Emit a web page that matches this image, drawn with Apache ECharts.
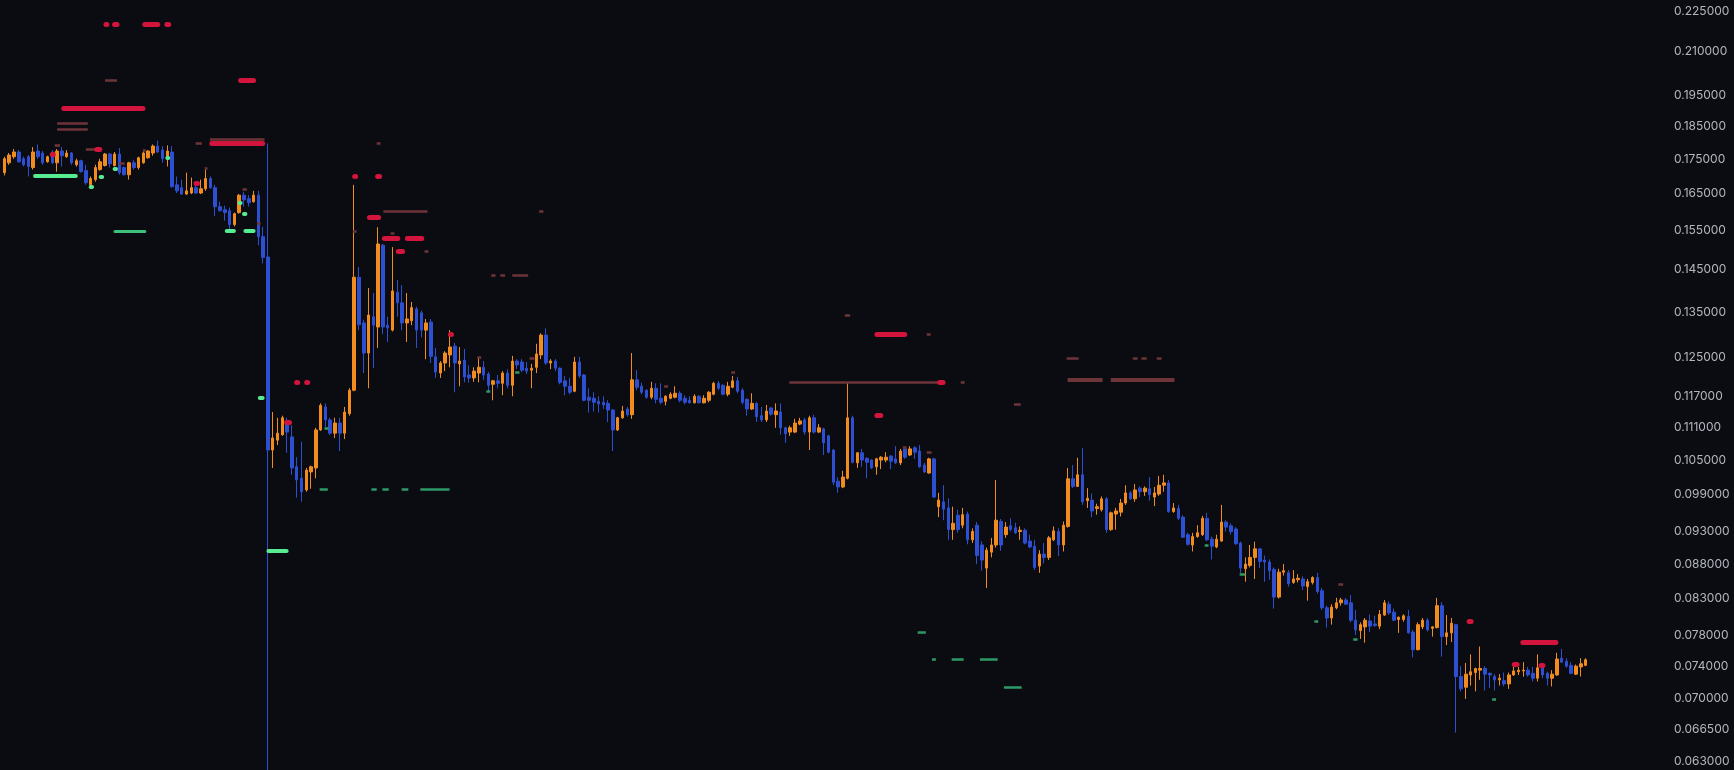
<!DOCTYPE html>
<html><head><meta charset="utf-8">
<script src="https://cdn.jsdelivr.net/npm/echarts@6/dist/echarts.min.js"></script>
<style>html,body{margin:0;padding:0;background:#0b0c11;}#c{width:1734px;height:770px;}</style>
</head><body><div id="c"></div>
<script>
// OHLC per candle: [open, high, low, close]
const ohlc = [
[0.1710,0.1757,0.1702,0.1751],[0.1739,0.1768,0.1733,0.1762],[0.1757,0.1780,0.1751,0.1771],[0.1771,0.1777,0.1739,0.1742],
[0.1751,0.1757,0.1728,0.1733],[0.1757,0.1762,0.1699,0.1728],[0.1725,0.1786,0.1719,0.1771],[0.1774,0.1794,0.1750,0.1757],
[0.1768,0.1774,0.1733,0.1739],[0.1742,0.1760,0.1739,0.1757],[0.1771,0.1777,0.1736,0.1739],[0.1739,0.1780,0.1713,0.1774],
[0.1774,0.1786,0.1728,0.1760],[0.1757,0.1777,0.1754,0.1768],[0.1768,0.1771,0.1733,0.1739],[0.1733,0.1751,0.1728,0.1745],
[0.1745,0.1748,0.1710,0.1713],[0.1716,0.1733,0.1675,0.1681],[0.1675,0.1699,0.1664,0.1693],[0.1690,0.1733,0.1684,0.1725],
[0.1719,0.1751,0.1716,0.1742],[0.1731,0.1768,0.1728,0.1765],[0.1765,0.1768,0.1725,0.1736],[0.1731,0.1771,0.1728,0.1765],
[0.1765,0.1783,0.1704,0.1710],[0.1725,0.1728,0.1702,0.1704],[0.1704,0.1742,0.1690,0.1739],[0.1739,0.1748,0.1719,0.1725],
[0.1725,0.1757,0.1719,0.1754],[0.1739,0.1777,0.1736,0.1768],[0.1754,0.1777,0.1751,0.1774],[0.1768,0.1794,0.1760,0.1789],
[0.1789,0.1806,0.1768,0.1771],[0.1777,0.1789,0.1739,0.1751],[0.1751,0.1791,0.1728,0.1774],[0.1771,0.1789,0.1667,0.1670],
[0.1675,0.1699,0.1652,0.1658],[0.1667,0.1690,0.1647,0.1649],[0.1649,0.1710,0.1647,0.1658],[0.1652,0.1696,0.1649,0.1667],
[0.1667,0.1684,0.1649,0.1652],[0.1652,0.1690,0.1649,0.1664],[0.1664,0.1719,0.1658,0.1693],[0.1693,0.1699,0.1664,0.1667],
[0.1667,0.1675,0.1589,0.1614],[0.1614,0.1628,0.1601,0.1603],[0.1606,0.1617,0.1576,0.1598],[0.1603,0.1612,0.1553,0.1566],
[0.1566,0.1598,0.1561,0.1595],[0.1598,0.1649,0.1595,0.1646],[0.1646,0.1655,0.1614,0.1633],[0.1636,0.1646,0.1614,0.1625],
[0.1628,0.1658,0.1625,0.1646],[0.1646,0.1658,0.1512,0.1534],[0.1534,0.1560,0.1466,0.1481],[0.1482,0.1797,0.0600,0.1068],
[0.1068,0.1139,0.1036,0.1090],[0.1086,0.1128,0.1077,0.1099],[0.1096,0.1132,0.1094,0.1128],[0.1120,0.1128,0.1063,0.1101],
[0.1092,0.1114,0.1024,0.1036],[0.1038,0.1055,0.0985,0.1015],[0.1018,0.1083,0.0978,0.0995],[0.0998,0.1036,0.0995,0.1032],
[0.1029,0.1040,0.1000,0.1038],[0.1036,0.1109,0.1018,0.1105],[0.1105,0.1156,0.1103,0.1152],[0.1149,0.1156,0.1111,0.1124],
[0.1124,0.1128,0.1096,0.1099],[0.1099,0.1128,0.1090,0.1118],[0.1118,0.1128,0.1066,0.1099],[0.1099,0.1149,0.1088,0.1139],
[0.1136,0.1186,0.1132,0.1182],[0.1182,0.1675,0.1180,0.1432],[0.1432,0.1457,0.1309,0.1321],[0.1325,0.1332,0.1217,0.1259],
[0.1259,0.1406,0.1186,0.1343],[0.1339,0.1394,0.1227,0.1320],[0.1316,0.1559,0.1270,0.1515],[0.1512,0.1515,0.1300,0.1316],
[0.1320,0.1339,0.1283,0.1314],[0.1309,0.1507,0.1306,0.1399],[0.1396,0.1425,0.1339,0.1371],[0.1371,0.1413,0.1309,0.1325],
[0.1325,0.1394,0.1283,0.1334],[0.1330,0.1373,0.1320,0.1360],[0.1357,0.1362,0.1270,0.1309],[0.1348,0.1353,0.1293,0.1309],
[0.1309,0.1334,0.1246,0.1325],[0.1327,0.1334,0.1238,0.1252],[0.1251,0.1270,0.1207,0.1219],[0.1217,0.1242,0.1207,0.1238],
[0.1238,0.1263,0.1221,0.1259],[0.1255,0.1309,0.1229,0.1272],[0.1274,0.1281,0.1178,0.1238],[0.1236,0.1272,0.1190,0.1242],
[0.1244,0.1268,0.1198,0.1209],[0.1213,0.1233,0.1197,0.1207],[0.1207,0.1229,0.1199,0.1221],[0.1217,0.1251,0.1198,0.1229],
[0.1229,0.1242,0.1203,0.1213],[0.1215,0.1219,0.1180,0.1192],[0.1194,0.1203,0.1162,0.1201],[0.1201,0.1213,0.1186,0.1196],
[0.1196,0.1221,0.1172,0.1217],[0.1217,0.1225,0.1186,0.1192],[0.1192,0.1253,0.1170,0.1242],[0.1242,0.1246,0.1225,0.1234],
[0.1240,0.1246,0.1219,0.1223],[0.1227,0.1240,0.1215,0.1221],[0.1223,0.1236,0.1186,0.1227],[0.1229,0.1279,0.1217,0.1257],
[0.1255,0.1302,0.1246,0.1298],[0.1298,0.1313,0.1234,0.1238],[0.1238,0.1246,0.1225,0.1242],[0.1242,0.1246,0.1221,0.1227],
[0.1227,0.1229,0.1194,0.1198],[0.1201,0.1211,0.1172,0.1190],[0.1190,0.1207,0.1174,0.1178],[0.1180,0.1251,0.1178,0.1240],
[0.1240,0.1251,0.1207,0.1211],[0.1213,0.1215,0.1160,0.1162],[0.1168,0.1186,0.1138,0.1162],[0.1166,0.1178,0.1140,0.1158],
[0.1160,0.1170,0.1138,0.1155],[0.1158,0.1170,0.1145,0.1153],[0.1156,0.1162,0.1120,0.1143],[0.1143,0.1145,0.1066,0.1105],
[0.1105,0.1130,0.1103,0.1128],[0.1128,0.1151,0.1126,0.1141],[0.1145,0.1149,0.1130,0.1134],[0.1134,0.1259,0.1126,0.1203],
[0.1203,0.1223,0.1182,0.1188],[0.1190,0.1197,0.1174,0.1178],[0.1182,0.1184,0.1165,0.1168],[0.1168,0.1199,0.1164,0.1186],
[0.1186,0.1196,0.1156,0.1164],[0.1166,0.1196,0.1154,0.1158],[0.1160,0.1172,0.1152,0.1170],[0.1166,0.1178,0.1164,0.1174],
[0.1168,0.1190,0.1166,0.1176],[0.1176,0.1180,0.1158,0.1162],[0.1166,0.1172,0.1154,0.1158],[0.1162,0.1170,0.1156,0.1157],
[0.1157,0.1174,0.1156,0.1170],[0.1170,0.1172,0.1156,0.1157],[0.1157,0.1172,0.1156,0.1166],[0.1162,0.1180,0.1158,0.1178],
[0.1174,0.1199,0.1172,0.1196],[0.1196,0.1201,0.1182,0.1186],[0.1192,0.1194,0.1172,0.1174],[0.1174,0.1199,0.1170,0.1190],
[0.1188,0.1211,0.1186,0.1201],[0.1201,0.1209,0.1176,0.1180],[0.1182,0.1186,0.1154,0.1158],[0.1164,0.1166,0.1132,0.1145],
[0.1145,0.1176,0.1143,0.1156],[0.1156,0.1158,0.1120,0.1130],[0.1132,0.1149,0.1120,0.1124],[0.1124,0.1153,0.1120,0.1141],
[0.1147,0.1149,0.1132,0.1135],[0.1134,0.1156,0.1109,0.1141],[0.1139,0.1156,0.1096,0.1109],[0.1109,0.1111,0.1081,0.1098],
[0.1101,0.1113,0.1094,0.1109],[0.1101,0.1126,0.1099,0.1118],[0.1116,0.1128,0.1114,0.1122],[0.1124,0.1128,0.1096,0.1101],
[0.1101,0.1132,0.1068,0.1128],[0.1128,0.1134,0.1098,0.1101],[0.1101,0.1116,0.1099,0.1109],[0.1107,0.1109,0.1059,0.1081],
[0.1094,0.1096,0.1062,0.1064],[0.1068,0.1070,0.1006,0.1011],[0.1013,0.1020,0.0993,0.1003],[0.1003,0.1031,0.1001,0.1020],
[0.1018,0.1198,0.1016,0.1128],[0.1128,0.1132,0.1044,0.1046],[0.1045,0.1064,0.1036,0.1063],[0.1063,0.1070,0.1038,0.1050],
[0.1053,0.1055,0.1018,0.1046],[0.1050,0.1051,0.1034,0.1036],[0.1038,0.1054,0.1024,0.1052],[0.1050,0.1057,0.1034,0.1055],
[0.1050,0.1064,0.1046,0.1055],[0.1057,0.1059,0.1034,0.1048],[0.1052,0.1075,0.1043,0.1045],[0.1045,0.1070,0.1041,0.1066],
[0.1070,0.1073,0.1052,0.1055],[0.1059,0.1075,0.1057,0.1070],[0.1072,0.1075,0.1052,0.1064],[0.1066,0.1077,0.1036,0.1038],
[0.1041,0.1045,0.1027,0.1029],[0.1027,0.1054,0.1026,0.1052],[0.1052,0.1054,0.0985,0.0986],[0.0970,0.0993,0.0953,0.0981],
[0.0978,0.1006,0.0948,0.0966],[0.0968,0.0984,0.0917,0.0933],[0.0933,0.0970,0.0917,0.0943],[0.0956,0.0965,0.0928,0.0933],
[0.0940,0.0968,0.0935,0.0957],[0.0958,0.0962,0.0910,0.0917],[0.0917,0.0935,0.0912,0.0930],[0.0940,0.0945,0.0880,0.0893],
[0.0909,0.0915,0.0870,0.0886],[0.0874,0.0905,0.0845,0.0901],[0.0898,0.0920,0.0890,0.0909],[0.0909,0.1015,0.0905,0.0948],
[0.0946,0.0950,0.0900,0.0909],[0.0925,0.0945,0.0920,0.0937],[0.0939,0.0951,0.0930,0.0933],[0.0936,0.0944,0.0926,0.0928],
[0.0930,0.0938,0.0917,0.0932],[0.0932,0.0935,0.0910,0.0912],[0.0915,0.0925,0.0904,0.0906],[0.0907,0.0917,0.0871,0.0875],
[0.0877,0.0901,0.0867,0.0895],[0.0895,0.0912,0.0881,0.0890],[0.0890,0.0923,0.0886,0.0920],[0.0917,0.0938,0.0915,0.0931],
[0.0930,0.0935,0.0892,0.0909],[0.0909,0.0946,0.0899,0.0940],[0.0938,0.1036,0.0936,0.1017],[0.1017,0.1041,0.1001,0.1004],
[0.1004,0.1054,0.1003,0.1024],[0.1024,0.1072,0.0973,0.0978],[0.0980,0.1001,0.0968,0.0984],[0.0981,0.0992,0.0953,0.0963],
[0.0967,0.0975,0.0957,0.0970],[0.0965,0.0987,0.0962,0.0983],[0.0983,0.0986,0.0928,0.0933],[0.0933,0.0962,0.0931,0.0960],
[0.0958,0.0968,0.0933,0.0963],[0.0961,0.0983,0.0954,0.0976],[0.0976,0.1006,0.0973,0.0993],[0.0993,0.0996,0.0981,0.0983],
[0.0983,0.1008,0.0978,0.0998],[0.1001,0.1004,0.0986,0.0995],[0.0995,0.1004,0.0988,0.1001],[0.1000,0.1020,0.0980,0.0990],
[0.0986,0.1003,0.0971,0.0993],[0.0991,0.1022,0.0988,0.1006],[0.1006,0.1024,0.0995,0.1010],[0.1010,0.1015,0.0960,0.0962],
[0.0962,0.0976,0.0960,0.0968],[0.0967,0.0973,0.0948,0.0951],[0.0953,0.0956,0.0920,0.0921],[0.0925,0.0928,0.0908,0.0910],
[0.0909,0.0928,0.0899,0.0922],[0.0922,0.0940,0.0920,0.0928],[0.0925,0.0955,0.0923,0.0951],[0.0951,0.0960,0.0915,0.0917],
[0.0918,0.0922,0.0887,0.0907],[0.0906,0.0925,0.0904,0.0918],[0.0915,0.0973,0.0914,0.0945],[0.0945,0.0948,0.0930,0.0937],
[0.0939,0.0943,0.0925,0.0930],[0.0934,0.0937,0.0909,0.0911],[0.0912,0.0914,0.0867,0.0874],[0.0873,0.0890,0.0854,0.0880],
[0.0878,0.0909,0.0875,0.0890],[0.0890,0.0914,0.0858,0.0903],[0.0903,0.0904,0.0874,0.0884],[0.0886,0.0893,0.0854,0.0883],
[0.0883,0.0887,0.0857,0.0870],[0.0872,0.0875,0.0816,0.0832],[0.0832,0.0873,0.0830,0.0868],[0.0868,0.0880,0.0863,0.0870],
[0.0867,0.0871,0.0847,0.0851],[0.0853,0.0871,0.0851,0.0858],[0.0857,0.0865,0.0853,0.0859],[0.0858,0.0862,0.0842,0.0848],
[0.0847,0.0858,0.0827,0.0854],[0.0853,0.0862,0.0850,0.0860],[0.0860,0.0867,0.0837,0.0840],[0.0841,0.0845,0.0814,0.0817],
[0.0817,0.0820,0.0790,0.0803],[0.0803,0.0822,0.0794,0.0818],[0.0817,0.0831,0.0815,0.0824],[0.0824,0.0831,0.0820,0.0828],
[0.0828,0.0831,0.0821,0.0822],[0.0824,0.0835,0.0797,0.0800],[0.0800,0.0814,0.0780,0.0787],[0.0786,0.0797,0.0775,0.0794],
[0.0791,0.0803,0.0770,0.0800],[0.0799,0.0808,0.0784,0.0792],[0.0795,0.0806,0.0791,0.0793],[0.0792,0.0814,0.0788,0.0808],
[0.0807,0.0828,0.0806,0.0824],[0.0822,0.0826,0.0807,0.0810],[0.0811,0.0816,0.0799,0.0800],[0.0801,0.0805,0.0783,0.0804],
[0.0801,0.0808,0.0798,0.0806],[0.0805,0.0814,0.0782,0.0783],[0.0784,0.0787,0.0751,0.0761],[0.0761,0.0797,0.0760,0.0794],
[0.0791,0.0803,0.0788,0.0800],[0.0800,0.0803,0.0785,0.0787],[0.0789,0.0792,0.0778,0.0791],[0.0790,0.0831,0.0789,0.0820],
[0.0820,0.0825,0.0752,0.0778],[0.0778,0.0807,0.0767,0.0783],[0.0783,0.0803,0.0771,0.0796],[0.0794,0.0795,0.0661,0.0727],
[0.0727,0.0740,0.0709,0.0712],[0.0714,0.0744,0.0700,0.0730],[0.0729,0.0755,0.0716,0.0733],[0.0732,0.0738,0.0709,0.0737],
[0.0735,0.0765,0.0723,0.0737],[0.0737,0.0740,0.0710,0.0730],[0.0731,0.0732,0.0713,0.0729],[0.0727,0.0730,0.0710,0.0723],
[0.0723,0.0730,0.0716,0.0725],[0.0722,0.0732,0.0715,0.0718],[0.0718,0.0732,0.0712,0.0729],[0.0729,0.0739,0.0728,0.0734],
[0.0733,0.0739,0.0729,0.0735],[0.0734,0.0745,0.0727,0.0735],[0.0735,0.0739,0.0727,0.0729],[0.0731,0.0739,0.0721,0.0725],
[0.0725,0.0755,0.0721,0.0738],[0.0739,0.0742,0.0725,0.0729],[0.0731,0.0733,0.0716,0.0725],[0.0725,0.0735,0.0715,0.0730],
[0.0729,0.0757,0.0728,0.0749],[0.0750,0.0762,0.0744,0.0745],[0.0746,0.0750,0.0738,0.0740],[0.0741,0.0745,0.0730,0.0731],
[0.0730,0.0742,0.0729,0.0740],[0.0739,0.0750,0.0727,0.0743],[0.0741,0.0750,0.0740,0.0748]
];

const priceTicks = [0.225,0.210,0.195,0.185,0.175,0.165,0.155,0.145,0.135,0.125,0.117,0.111,0.105,0.099,0.093,0.088,0.083,0.078,0.074,0.070,0.0665,0.063];
const axisMin = 0.06204, axisMax = 0.22924;

// horizontal level segments: [startCandle, endCandle, price]
const brightRed = [
[21.2,21.4,0.2199],[23.0,23.5,0.2199],[29.3,32.0,0.2199],[33.9,34.3,0.2199],
[49.3,52.0,0.2002],[12.4,28.9,0.1909],[19.3,19.9,0.1780],[10.0,10.2,0.1765],
[43.3,53.9,0.1797],[40.0,40.3,0.1681],[73.1,73.3,0.1701],[77.9,78.3,0.1701],
[76.2,78.1,0.1586],[79.3,82.1,0.1531],[84.1,87.1,0.1531],[82.2,83.1,0.1497],
[61.0,61.2,0.1199],[63.1,63.3,0.1199],[58.9,59.5,0.1120],[93.1,93.3,0.1300],
[195.2,195.9,0.1199],[182.1,187.9,0.1300],[182.1,182.9,0.1132],
[305.7,306.1,0.0799],[316.9,323.8,0.0770],[315.1,315.7,0.0743],[320.7,321.1,0.0741]
];
const dimRed = [
[21.0,23.5,0.2002],[11.0,17.4,0.1860],[11.0,17.4,0.1842],[10.5,11.6,0.1792],
[17.0,19.3,0.1780],[39.9,41.2,0.1797],[42.9,54.3,0.1810],[28.9,29.5,0.1777],
[23.9,25.1,0.1739],[41.8,42.4,0.1722],[49.7,50.6,0.1662],[52.7,53.5,0.1570],
[77.7,78.5,0.1797],[79.1,88.3,0.1602],[72.7,73.5,0.1549],[80.6,81.4,0.1543],
[87.7,88.5,0.1497],[111.6,112.5,0.1602],[101.6,102.5,0.1437],[103.5,104.5,0.1437],
[106.0,109.3,0.1437],[98.7,99.5,0.1251],[109.6,110.6,0.1248],[137.7,138.5,0.1190],
[151.7,152.5,0.1219],[163.8,195.4,0.1199],[199.6,200.4,0.1199],[175.4,176.5,0.1342],
[192.5,193.3,0.1300],[221.7,224.2,0.1248],[235.5,236.5,0.1248],[237.3,238.4,0.1248],
[240.5,241.5,0.1248],[210.7,212.1,0.1155],[187.5,188.3,0.1073],[192.5,193.5,0.1064],
[278.4,279.4,0.0850]
];
const dimRedThick = [[221.9,229.2,0.1203],[230.9,244.2,0.1203]];
const brightGreen = [
[6.4,14.9,0.1701],[18.0,18.3,0.1669],[20.1,20.4,0.1698],[23.0,23.3,0.1722],
[34.0,34.2,0.1754],[46.4,47.9,0.1549],[50.3,52.0,0.1549],[49.1,49.3,0.1625],
[50.0,50.3,0.1596],[53.3,53.9,0.1168],[55.1,58.9,0.0900]
];
const midGreen = [[23.1,29.3,0.1549]];
const dimGreen = [
[65.8,67.5,0.1000],[76.6,77.7,0.1000],[78.9,80.2,0.1000],[82.9,84.3,0.1000],[86.8,92.9,0.1000],
[66.8,67.7,0.1109],[106.6,107.5,0.1219],[100.6,101.4,0.1180],[250.5,251.3,0.0909],
[257.8,259.0,0.0865],[273.4,274.2,0.0799],[281.5,282.4,0.0775],[190.6,192.3,0.0784],
[193.6,194.4,0.0749],[197.7,200.2,0.0749],[203.6,207.3,0.0749],[208.6,212.3,0.0714],
[310.5,311.3,0.0700]
];

const UP = '#f28c1f', DOWN = '#2d4fd2';
const categories = ohlc.map((_, i) => String(i));
const candleData = ohlc.map(d => [Math.log(d[0]), Math.log(d[3]), Math.log(d[2]), Math.log(d[1])]);

function segSeries(segs, color, width, cap, z) {
  return {
    type: 'lines', coordinateSystem: 'cartesian2d', xAxisIndex: 1, yAxisIndex: 0,
    polyline: false, silent: true, z: z, animation: false,
    lineStyle: { color: color, width: width, cap: cap, opacity: 1 },
    data: segs.map(s => ({ coords: [[s[0], Math.log(s[2])], [s[1], Math.log(s[2])]] }))
  };
}

const chart = echarts.init(document.getElementById('c'), null, { renderer: 'canvas' });
chart.setOption({
  backgroundColor: '#0b0c11',
  animation: false,
  grid: { left: 2, right: 146, top: 0, bottom: 0, containLabel: false },
  xAxis: [
    { type: 'category', data: categories, boundaryGap: true, show: false },
    { type: 'value', min: -0.5, max: ohlc.length - 0.5, show: false }
  ],
  yAxis: [{
    type: 'value', position: 'right',
    min: Math.log(axisMin), max: Math.log(axisMax),
    axisLine: { show: false }, axisTick: { show: false }, splitLine: { show: false },
    axisLabel: {
      customValues: priceTicks.map(v => Math.log(v)),
      formatter: v => Math.exp(v).toFixed(6),
      color: '#b4b7bf', fontSize: 12, fontFamily: 'Inter, Roboto, sans-serif',
      margin: 86, align: 'left'
    }
  }],
  series: [
    {
      type: 'candlestick', data: candleData, xAxisIndex: 0, yAxisIndex: 0,
      barWidth: 3, clip: true, z: 2,
      itemStyle: { color: UP, color0: DOWN, borderColor: UP, borderColor0: DOWN, borderWidth: 1 }
    },
    segSeries(dimGreen, '#2e9a66', 2.5, 'butt', 3),
    segSeries(midGreen, '#3cc07a', 3, 'round', 3),
    segSeries(brightGreen, '#58ec92', 4, 'round', 4),
    segSeries(dimRed, '#6e3538', 2.5, 'butt', 3),
    segSeries(dimRedThick, '#6e3538', 4, 'butt', 3),
    segSeries(brightRed, '#d3143c', 5, 'round', 5)
  ]
});
</script>
</body></html>
